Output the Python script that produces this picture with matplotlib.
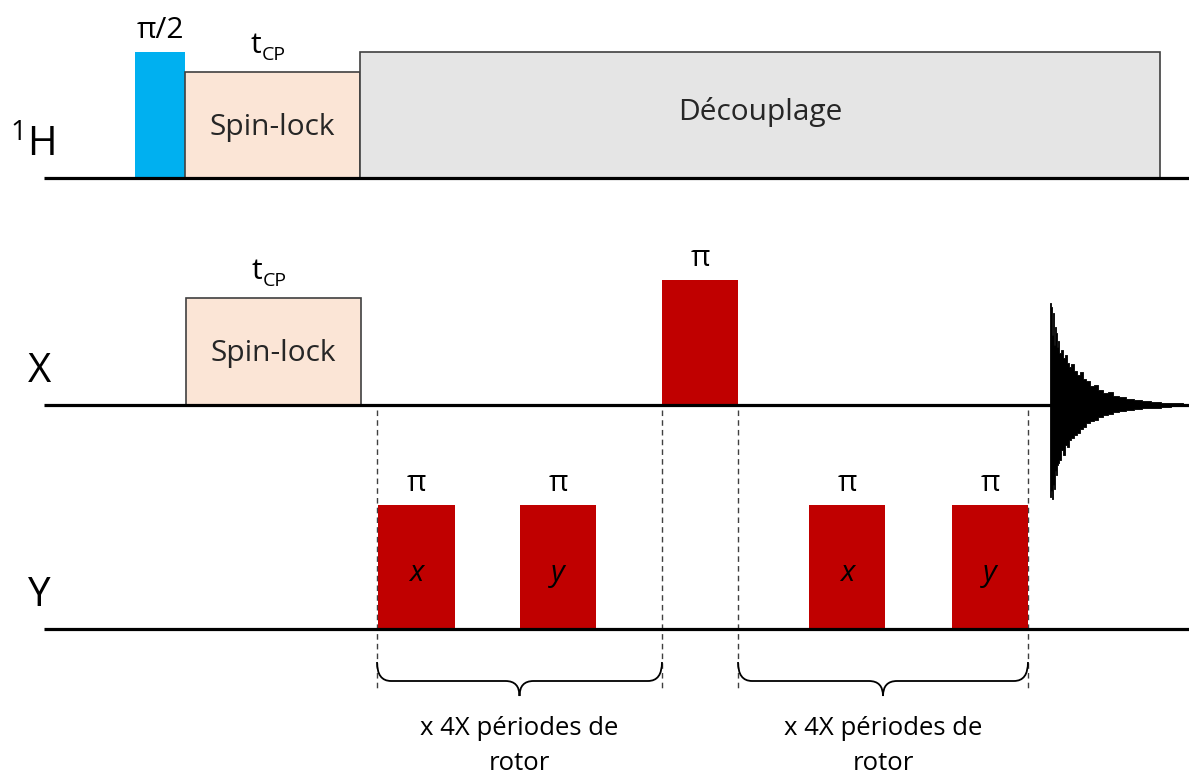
import matplotlib
matplotlib.use('Agg')
import matplotlib.pyplot as plt
from matplotlib.patches import Rectangle, PathPatch
from matplotlib.path import Path

plt.rcParams['font.family'] = ['Open Sans', 'DejaVu Sans']

# channels: name, baseline (px from top)
channels = ['1H', 'X', 'Y']
baselines = [178, 405, 629]

# pulses: channel index, start, end, top, colour, label inside, label above
pulse_chan = [0, 0, 0, 1, 1, 2, 2, 2, 2]
pulse_x0 = [135, 185, 360, 186, 662, 378, 520, 809, 952]
pulse_x1 = [185, 360, 1160, 361, 738, 455, 596, 885, 1028]
pulse_top = [52, 72, 52, 298, 280, 505, 505, 505, 505]
pulse_col = ['#00B0F0', '#FBE5D6', '#E5E5E5', '#FBE5D6', '#C00000',
             '#C00000', '#C00000', '#C00000', '#C00000']
pulse_inner = ['', 'Spin-lock', 'Découplage', 'Spin-lock', '',
               'x', 'y', 'x', 'y']
pulse_above = ['π/2', 'tCP', '', 'tCP', 'π', 'π', 'π', 'π', 'π']

# rotor-period blocks (dashed guides + brace)
block_x0 = [377, 738]
block_x1 = [662, 1028]
block_line1 = ['x 4X périodes de', 'x 4X périodes de']
block_line2 = ['rotor', 'rotor']

# FID envelope (px above / below the X baseline)
fid_x = [1050, 1051, 1052, 1053, 1054, 1055, 1056, 1057, 1058, 1060, 1062,
         1064, 1066, 1068, 1070, 1072, 1075, 1078, 1081, 1084, 1088, 1092,
         1096, 1100, 1105, 1110, 1116, 1122, 1130, 1138, 1146, 1156, 1166,
         1176, 1189]
fid_up = [102, 98, 70, 92, 60, 78, 72, 58, 64, 52, 55, 47, 50, 42, 38, 41,
          34, 30, 33, 26, 24, 19, 20, 15, 12, 13, 9, 8, 6, 5, 4, 3, 2, 2, 1]
fid_dn = [92, 86, 94, 80, 84, 66, 70, 60, 58, 55, 45, 50, 40, 42, 35, 33,
          30, 28, 24, 22, 18, 16, 15, 12, 10, 9, 7, 6, 5, 4, 3, 3, 2, 1, 1]

fig = plt.figure(figsize=(11.89, 7.74), dpi=100)
ax = fig.add_axes([0, 0, 1, 1])
ax.set_xlim(0, 1189)
ax.set_ylim(774, 0)
ax.axis('off')

fs = 21.5

for i in range(len(pulse_x0)):
    base = baselines[pulse_chan[i]]
    x0, x1, top = pulse_x0[i], pulse_x1[i], pulse_top[i]
    ec = '#404040' if pulse_col[i] in ('#FBE5D6', '#E5E5E5') else 'none'
    ax.add_patch(Rectangle((x0, top), x1 - x0, base - top, fc=pulse_col[i],
                           ec=ec, lw=1.2, zorder=2))
    xc = (x0 + x1) / 2
    if pulse_inner[i] in ('x', 'y'):
        ax.text(xc, top + 76, pulse_inner[i], style='italic',
                ha='center', va='baseline', fontsize=fs, zorder=3)
    elif pulse_inner[i]:
        yb = top + 68 if i == 2 else (top + base) / 2 + 10
        ax.text(xc, yb, pulse_inner[i], ha='center', va='baseline',
                fontsize=fs, color='#262626', zorder=3)
    lab = pulse_above[i]
    if lab == 'tCP':
        ax.text(xc - 17, top - 19, 't', ha='center', va='baseline',
                fontsize=fs)
        ax.text(xc - 11, top - 12, 'CP', ha='left', va='baseline',
                fontsize=14)
    elif lab:
        ax.text(xc, top - 14, lab, ha='center', va='baseline', fontsize=fs)

for base in baselines:
    ax.plot([44, 1189], [base, base], color='black', lw=2.3, zorder=4,
            solid_capstyle='butt')

# channel labels
ax.text(18, 140, '1', ha='center', va='baseline', fontsize=20)
ax.text(42, 155, 'H', ha='center', va='baseline', fontsize=29)
ax.text(40, 382, 'X', ha='center', va='baseline', fontsize=29)
ax.text(39, 606, 'Y', ha='center', va='baseline', fontsize=29)

# FID
xb = baselines[1]
ax.fill_between(fid_x, [xb - u for u in fid_up], [xb + d for d in fid_dn],
                step='mid', color='black', lw=0.6, zorder=5)

# dashed guides, braces and captions
y_top, y_bot = 410, 688
for x0, x1, t1, t2 in zip(block_x0, block_x1, block_line1, block_line2):
    for xx in (x0, x1):
        ax.plot([xx, xx], [y_top, y_bot], ls=(0, (4, 3)), color='#404040',
                lw=1, zorder=1)
    xm = (x0 + x1) / 2
    r, ytop, yh, ytip = 14, 662, 681, 696
    verts = [(x0, ytop), (x0, yh), (x0 + r, yh), (x0 + r, yh),
             (xm - r, yh), (xm, yh), (xm, ytip),
             (xm, yh), (xm + r, yh), (xm + r, yh),
             (x1 - r, yh), (x1, yh), (x1, ytop)]
    codes = [Path.MOVETO, Path.CURVE3, Path.CURVE3, Path.LINETO,
             Path.LINETO, Path.CURVE3, Path.CURVE3,
             Path.CURVE3, Path.CURVE3, Path.LINETO,
             Path.LINETO, Path.CURVE3, Path.CURVE3]
    ax.add_patch(PathPatch(Path(verts, codes), fc='none', ec='black',
                           lw=1.3, zorder=3))
    ax.text(xm, 735, t1, ha='center', va='baseline', fontsize=18.5)
    ax.text(xm, 770, t2, ha='center', va='baseline', fontsize=18.5)

fig.savefig('out.png', dpi=100)
